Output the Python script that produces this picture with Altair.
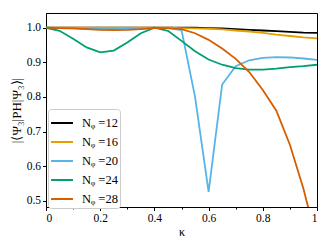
import altair as alt
import pandas as pd

kappa = [round(i * 0.05, 2) for i in range(21)]

n12 = [1.0, 1.0, 1.0, 1.0, 1.0, 1.0, 1.0, 1.0, 1.0, 1.0, 1.0, 1.0, 0.999, 0.998, 0.996, 0.994, 0.992, 0.990, 0.988, 0.986, 0.985]
n16 = [1.0, 1.0, 1.0, 1.0, 1.0, 1.0, 1.0, 1.0, 1.0, 1.0, 0.999, 0.998, 0.997, 0.995, 0.992, 0.989, 0.985, 0.980, 0.976, 0.972, 0.969]
n20 = [1.0, 0.999, 0.998, 0.997, 0.996, 0.996, 0.997, 0.998, 1.0, 0.999, 0.993, 0.800, 0.526, 0.836, 0.889, 0.906, 0.913, 0.915, 0.914, 0.911, 0.907]
n24 = [1.0, 0.991, 0.968, 0.943, 0.929, 0.934, 0.957, 0.984, 1.0, 0.991, 0.962, 0.932, 0.908, 0.893, 0.883, 0.879, 0.879, 0.882, 0.886, 0.889, 0.893]
n28 = [1.0, 0.999, 0.998, 0.996, 0.994, 0.993, 0.994, 0.996, 0.999, 0.999, 0.996, 0.984, 0.965, 0.940, 0.910, 0.872, 0.820, 0.760, 0.662, 0.535, 0.38]

labels = ["Nᵩ =12", "Nᵩ =16", "Nᵩ =20", "Nᵩ =24", "Nᵩ =28"]
colors = ["#000000", "#E69F00", "#56B4E9", "#009E73", "#D55E00"]
series = [n12, n16, n20, n24, n28]

rows = []
for i, (lab, ys) in enumerate(zip(labels, series)):
    for k, v in zip(kappa, ys):
        rows.append({"kappa": k, "value": v, "series": lab, "idx": i})
df = pd.DataFrame(rows)

FONT = "Liberation Serif"
xscale = alt.Scale(domain=[0, 1], nice=False, zero=False)
yscale = alt.Scale(domain=[0.482, 1.0425], nice=False, zero=False)

lines = alt.Chart(df).mark_line(strokeWidth=1.8, clip=True).encode(
    x=alt.X("kappa:Q", scale=xscale, axis=alt.Axis(
        values=[0, 0.2, 0.4, 0.6, 0.8, 1.0],
        labelExpr="datum.value == 0 ? '0' : datum.value == 1 ? '1' : format(datum.value, '.1f')",
        title="κ", grid=False, tickSize=3.5, orient="bottom")),
    y=alt.Y("value:Q", scale=yscale, axis=alt.Axis(
        values=[0.5, 0.6, 0.7, 0.8, 0.9, 1.0], format=".1f",
        title="|⟨Ψ₃|PH|Ψ₃⟩|", grid=False, tickSize=3.5, titleFontSize=13)),
    color=alt.Color("series:N", scale=alt.Scale(domain=labels, range=colors),
                    legend=alt.Legend(title=None, orient="none", legendX=2, legendY=96,
                                      symbolType="stroke", symbolSize=480, symbolStrokeWidth=2,
                                      labelFont=FONT, labelFontSize=12.5, labelColor="#000",
                                      strokeColor="#cccccc", fillColor="white", padding=2,
                                      cornerRadius=3, rowPadding=-4, labelOffset=8)),
    detail="series:N",
)

minor = alt.Chart(df).mark_point(opacity=0).encode(
    x=alt.X("kappa:Q", scale=xscale, axis=alt.Axis(
        values=[0.1, 0.3, 0.5, 0.7, 0.9], labels=False, tickSize=2, domain=False,
        title=None, grid=False, orient="bottom")),
    y=alt.value(0),
)

chart = alt.layer(lines, minor).resolve_axis(x="independent").properties(
    width=271, height=194,
    autosize=alt.AutoSizeParams(type="none"),
    padding={"left": 38, "top": 5, "right": 8, "bottom": 34},
).configure_axis(
    labelFont=FONT, labelFontSize=11.5, labelColor="#000",
    titleFont=FONT, titleFontSize=12, titleFontWeight="normal", titleColor="#000",
    domainColor="#000", tickColor="#000", labelPadding=2,
).configure_axisY(titlePadding=3).configure_axisX(titlePadding=2).configure_view(
    stroke="#000", strokeWidth=1
)

chart.save("out.html", embed_options={"renderer": "svg", "actions": False})
